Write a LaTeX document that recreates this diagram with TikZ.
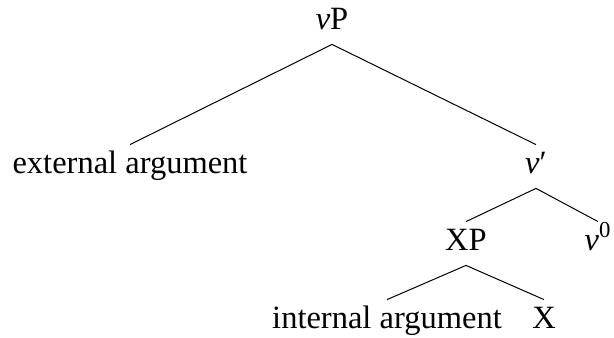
\documentclass[tikz,border=0pt]{standalone}
\usepackage{fontspec}
\setmainfont{Liberation Serif}
\usetikzlibrary{positioning}

\begin{document}
\begin{tikzpicture}[x=0.5pt, y=-0.5pt, font=\fontsize{16.25}{19}\selectfont,
  lbl/.style={anchor=base, inner sep=0pt, text height=14pt, text depth=7.5pt},
  br/.style={line width=0.5pt, black}
]
  \useasboundingbox (0,0) rectangle (614,337);
  \node[lbl] (vP) at (332,29) {\textit{v}P};
  \node[lbl] (ext) at (130,173) {external argument};
  \node[lbl] (vbar) at (536,173) {\textit{v}′};
  \node[lbl] (XP) at (466,250) {XP};
  \node[lbl] (vzero) at (598,250) {\textit{v}\textsuperscript{0}};
  \node[lbl] (int) at (387,328) {internal argument};
  \node[lbl] (X) at (544,328) {X};
  \draw[br] (vP.south) -- (ext.north);
  \draw[br] (vP.south) -- (vbar.north);
  \draw[br] (vbar.south) -- (XP.north);
  \draw[br] (vbar.south) -- (vzero.north);
  \draw[br] (XP.south) -- (int.north);
  \draw[br] (XP.south) -- (X.north);
\end{tikzpicture}
\end{document}
